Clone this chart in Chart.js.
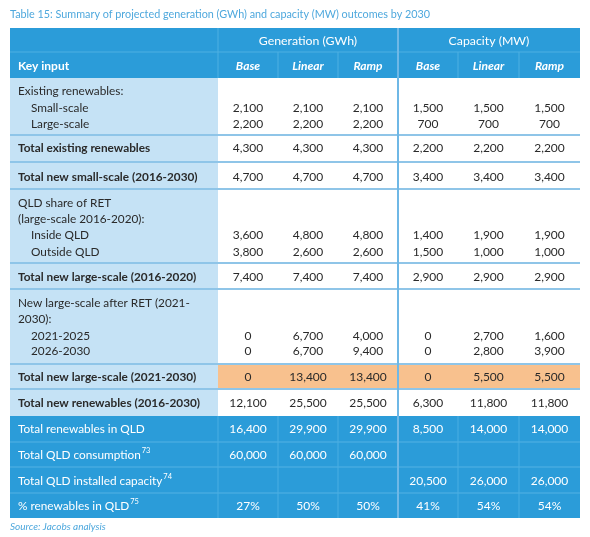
<!DOCTYPE html>
<html>
<head>
<meta charset="utf-8">
<script src="https://cdn.jsdelivr.net/npm/chart.js@4.4.0/dist/chart.umd.min.js"></script>
<style>
  html, body { margin: 0; background: #fff; }
  #wrap { width: 590px; height: 537px; }
</style>
</head>
<body>
<div id="wrap"><canvas id="table"></canvas></div>
<script>
// table text and values
const title = 'Table 15: Summary of projected generation (GWh) and capacity (MW) outcomes by 2030';
const source = 'Source: Jacobs analysis';
const keyHeader = 'Key input';
const groups = ['Generation (GWh)', 'Capacity (MW)'];
const scenarios = ['Base', 'Linear', 'Ramp'];

const rowLabels = [
  'Existing renewables:', 'Small-scale', 'Large-scale',
  'Total existing renewables',
  'Total new small-scale (2016-2030)',
  'QLD share of RET', '(large-scale 2016-2020):', 'Inside QLD', 'Outside QLD',
  'Total new large-scale (2016-2020)',
  'New large-scale after RET (2021-', '2030):', '2021-2025', '2026-2030',
  'Total new large-scale (2021-2030)',
  'Total new renewables (2016-2030)',
  'Total renewables in QLD',
  'Total QLD consumption',
  'Total QLD installed capacity',
  '% renewables in QLD'
];
const footnotes = [null, null, null, null, null, null, null, null, null, null,
  null, null, null, null, null, null, null, '73', '74', '75'];

const genBase   = [null, 2100, 2200, 4300, 4700, null, null, 3600, 3800, 7400, null, null, 0, 0, 0, 12100, 16400, 60000, null, 27];
const genLinear = [null, 2100, 2200, 4300, 4700, null, null, 4800, 2600, 7400, null, null, 6700, 6700, 13400, 25500, 29900, 60000, null, 50];
const genRamp   = [null, 2100, 2200, 4300, 4700, null, null, 4800, 2600, 7400, null, null, 4000, 9400, 13400, 25500, 29900, 60000, null, 50];
const capBase   = [null, 1500, 700, 2200, 3400, null, null, 1400, 1500, 2900, null, null, 0, 0, 0, 6300, 8500, null, 20500, 41];
const capLinear = [null, 1500, 700, 2200, 3400, null, null, 1900, 1000, 2900, null, null, 2700, 2800, 5500, 11800, 14000, null, 26000, 54];
const capRamp   = [null, 1500, 700, 2200, 3400, null, null, 1900, 1000, 2900, null, null, 1600, 3900, 5500, 11800, 14000, null, 26000, 54];
const percentRows = [19];

const series = [genBase, genLinear, genRamp, capBase, capLinear, capRamp];

// layout (in page units, mapped through the chart scales)
const colEdges = [10, 218, 278, 338, 398, 458, 519, 580];
const headTop = 28, headMid = 52, headBot = 78;
const lineY = [91, 108, 124, 148, 177, 203, 219, 235, 252, 277, 303, 319, 336, 351, 377, 403, 429, 455, 481, 506];
const indented = [1, 2, 7, 8, 12, 13];
// blocks: [top, bottom, kind]
const blocks = [
  [78, 135, 'plain'], [135, 162, 'total'], [162, 189, 'total'], [189, 263, 'plain'],
  [263, 289, 'total'], [289, 364, 'plain'], [364, 389, 'orange'], [389, 416, 'total'],
  [416, 442, 'blue'], [442, 467, 'blue'], [467, 493, 'blue'], [493, 518, 'blue']
];
const blockOfLine = [0, 0, 0, 1, 2, 3, 3, 3, 3, 4, 5, 5, 5, 5, 6, 7, 8, 9, 10, 11];

const BLUE = '#2b9cd9', LIGHT = '#c5e2f5', ORANGE = '#f8c18e', RULE = '#8fc5e8';
const FONT = 'Lato, "DejaVu Sans", sans-serif';

const tablePlugin = {
  id: 'tableDraw',
  afterDraw(chart) {
    const ctx = chart.ctx;
    const sx = v => chart.scales.x.getPixelForValue(v);
    const sy = v => chart.scales.y.getPixelForValue(v);
    const rect = (x0, y0, x1, y1, c) => {
      ctx.fillStyle = c;
      ctx.fillRect(sx(x0), sy(y0), sx(x1) - sx(x0), sy(y1) - sy(y0));
    };
    const hline = (x0, x1, y, c, w) => {
      ctx.strokeStyle = c; ctx.lineWidth = w;
      ctx.beginPath(); ctx.moveTo(sx(x0), sy(y)); ctx.lineTo(sx(x1), sy(y)); ctx.stroke();
    };
    const vline = (x, y0, y1, c, w) => {
      ctx.strokeStyle = c; ctx.lineWidth = w;
      ctx.beginPath(); ctx.moveTo(sx(x), sy(y0)); ctx.lineTo(sx(x), sy(y1)); ctx.stroke();
    };
    const text = (s, x, y, font, color, align) => {
      ctx.font = font; ctx.fillStyle = color;
      ctx.textAlign = align || 'left'; ctx.textBaseline = 'middle';
      ctx.fillText(s, sx(x), sy(y));
    };
    const L = colEdges[0], R = colEdges[colEdges.length - 1], K = colEdges[1];
    ctx.save();

    // title
    text(title, L, 15, '10.8px ' + FONT, '#4ea8dd');

    // header
    rect(L, headTop, R, headBot, BLUE);
    hline(L, R, headMid, '#4fb0e2', 1);
    vline(K, headTop, headBot, '#4fb0e2', 1);
    for (let i = 2; i < colEdges.length - 1; i++) {
      if (i !== 4) vline(colEdges[i], headMid, headBot, '#4fb0e2', 1);
    }
    groups.forEach((g, i) => {
      const cx = (colEdges[1 + i * 3] + colEdges[4 + i * 3]) / 2;
      text(g, cx, 41, '12.3px ' + FONT, '#fff', 'center');
    });
    text(keyHeader, L + 8, 66, 'bold 12px ' + FONT, '#fff');
    for (let c = 0; c < 6; c++) {
      const cx = (colEdges[c + 1] + colEdges[c + 2]) / 2;
      text(scenarios[c % 3], cx, 66, 'italic bold 12px ' + FONT, '#fff', 'center');
    }

    // body fills
    blocks.forEach(([t, b, kind]) => {
      if (kind === 'blue') {
        rect(L, t, R, b, BLUE);
      } else {
        rect(L, t, K, b, LIGHT);
        rect(K, t, R, b, kind === 'orange' ? ORANGE : '#fff');
      }
    });
    // rules
    blocks.forEach(([t, b, kind], i) => {
      if (kind === 'blue') {
        if (i > 8) hline(L, R, t, '#55b2e4', 1);
      } else if (i > 0) {
        hline(L, R, t, RULE, 2);
      }
    });
    vline(colEdges[4], headTop, 518, '#6fb8e6', 2);
    const blueTop = blocks[8][0];
    for (let i = 1; i < colEdges.length - 1; i++) {
      if (i !== 4) vline(colEdges[i], blueTop, 518, '#4aaee2', 1);
    }

    // body text
    rowLabels.forEach((lab, r) => {
      const kind = blocks[blockOfLine[r]][2];
      const isBlue = kind === 'blue';
      const bold = kind === 'total' || kind === 'orange';
      const col = isBlue ? '#fff' : '#2a2a2a';
      const font = (bold ? 'bold ' : '') + '11.8px ' + FONT;
      const x = L + 8 + (indented.includes(r) ? 13 : 0);
      text(lab, x, lineY[r], font, col);
      if (footnotes[r]) {
        ctx.font = font;
        const w = ctx.measureText(lab).width;
        text(footnotes[r], x + w / (sx(1) - sx(0)) + 1, lineY[r] - 4, '7.5px ' + FONT, col);
      }
      series.forEach((s, c) => {
        const v = s[r];
        if (v === null) return;
        const str = v.toLocaleString('en-US') + (percentRows.includes(r) ? '%' : '');
        const cx = (colEdges[c + 1] + colEdges[c + 2]) / 2;
        text(str, cx, lineY[r], '12px ' + FONT, col, 'center');
      });
    });

    // source
    text(source, L, 527, 'italic 10px ' + FONT, '#4ea8dd');
    ctx.restore();
  }
};

new Chart(document.getElementById('table'), {
  type: 'scatter',
  data: { datasets: [] },
  options: {
    responsive: true,
    maintainAspectRatio: false,
    animation: false,
    layout: { padding: 0 },
    plugins: { legend: { display: false }, tooltip: { enabled: false } },
    scales: {
      x: { type: 'linear', min: 0, max: 590, display: false },
      y: { type: 'linear', min: 0, max: 537, reverse: true, display: false }
    }
  },
  plugins: [tablePlugin]
});
</script>
</body>
</html>
